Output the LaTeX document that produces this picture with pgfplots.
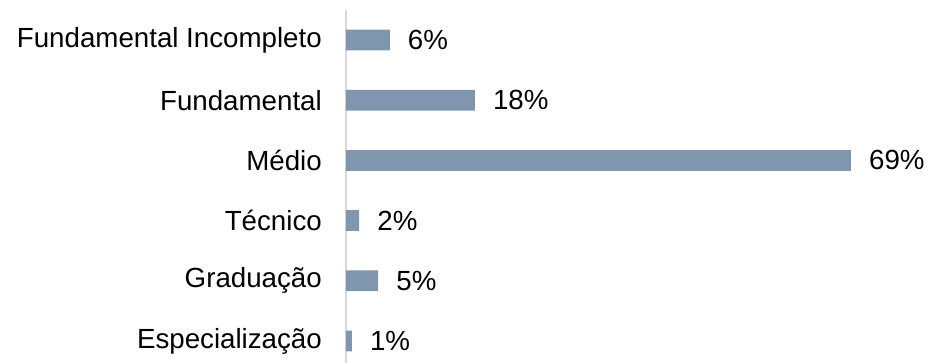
\documentclass[border=0pt]{standalone}
\usepackage{pgfplots}
\pgfplotsset{compat=1.18}
\usepackage{fontspec}
\setmainfont{Liberation Sans}
\definecolor{barc}{RGB}{127,150,174}
\newcommand{\bigf}{\fontsize{27.7pt}{33pt}\selectfont}
\begin{document}
\begin{tikzpicture}
\useasboundingbox (0,0) rectangle (930pt,362pt);
\begin{axis}[
  at={(346pt,352pt)}, anchor=north west,
  scale only axis, width=505pt, height=361pt,
  xmin=0, xmax=69, ymin=-0.5, ymax=5.5, y dir=reverse,
  xbar, bar width=20.7pt, bar shift=0pt,
  axis x line=none, axis y line*=left,
  ytick={0,...,5},
  yticklabels={Fundamental Incompleto, Fundamental, Médio, Técnico, Graduação, Especialização},
  major tick length=0pt,
  y axis line style={draw=black!15, line width=1.5pt},
  yticklabel style={anchor=east, inner sep=0pt, xshift=-24pt, font=\bigf},
  nodes near coords, point meta=explicit symbolic,
  nodes near coords style={anchor=west, inner sep=0pt, xshift=18pt, font=\bigf, text=black},
  clip=false,
]
\addplot[fill=barc, draw=none] coordinates {(5.98,0) [6\%] (17.6,1) [18\%] (69,2) [69\%] (1.8,3) [2\%] (4.4,4) [5\%] (0.8,5) [1\%]};
\end{axis}
\end{tikzpicture}
\end{document}
